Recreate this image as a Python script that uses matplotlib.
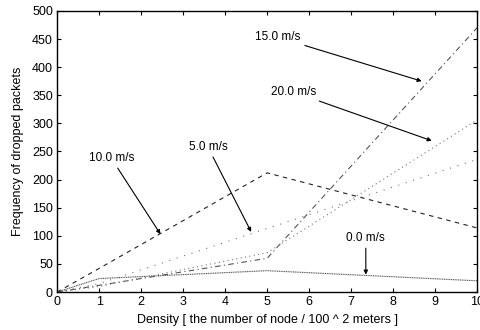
import matplotlib
matplotlib.use('Agg')
import matplotlib.pyplot as plt

plt.rcParams['font.family'] = ['Liberation Sans', 'DejaVu Sans']
plt.rcParams['font.size'] = 8

# density values where the curves were sampled
density = [0, 1, 5, 10]

speed_0 = [0, 24, 38, 20]
speed_5 = [0, 15, 113, 236]
speed_10 = [0, 42, 212, 114]
speed_15 = [0, 12, 60, 470]
speed_20 = [0, 10, 70, 306]

x_ticks = [0, 1, 2, 3, 4, 5, 6, 7, 8, 9, 10]
y_ticks = [0, 50, 100, 150, 200, 250, 300, 350, 400, 450, 500]


def main() -> None:
    fig = plt.figure(figsize=(4.8, 3.3), dpi=100)
    ax = fig.add_axes([0.119, 0.115, 0.875, 0.852])

    ax.plot(density, speed_0, color='#555555', lw=0.8, linestyle=(0, (1, 0.6)))
    ax.plot(density, speed_5, color='#777777', lw=0.8, linestyle=(0, (1, 6)))
    ax.plot(density, speed_10, color='#222222', lw=0.8, linestyle=(0, (4, 4)))
    ax.plot(density, speed_15, color='#555555', lw=0.8, linestyle=(0, (5, 3, 1, 3)))
    ax.plot(density, speed_20, color='#777777', lw=0.8, linestyle=(0, (1, 3)))

    # callouts naming each speed
    arrow = dict(arrowstyle='-|>', color='black', lw=0.8, mutation_scale=6,
                 shrinkA=1, shrinkB=0)
    ax.annotate('15.0 m/s', xy=(8.68, 375), xytext=(5.26, 453),
                ha='center', va='center', fontsize=8.5, arrowprops=arrow)
    ax.annotate('20.0 m/s', xy=(8.92, 269), xytext=(5.62, 356),
                ha='center', va='center', fontsize=8.5, arrowprops=arrow)
    ax.annotate('5.0 m/s', xy=(4.62, 107), xytext=(3.59, 258),
                ha='center', va='center', fontsize=8.5, arrowprops=arrow)
    ax.annotate('10.0 m/s', xy=(2.46, 103), xytext=(1.29, 238),
                ha='center', va='center', fontsize=8.5, arrowprops=arrow)
    ax.annotate('0.0 m/s', xy=(7.35, 31), xytext=(7.35, 96),
                ha='center', va='center', fontsize=8.5, arrowprops=arrow)

    ax.set_xlim(0, 10)
    ax.set_ylim(0, 500)
    ax.set_xticks(x_ticks)
    ax.set_yticks(y_ticks)
    ax.tick_params(direction='in', top=True, right=True, length=3, width=0.8,
                   labelsize=9, pad=3)
    for s in ax.spines.values():
        s.set_linewidth(1.0)
    ax.set_xlabel('Density [ the number of node / 100 ^ 2 meters ]', fontsize=9, labelpad=4)
    ax.set_ylabel('Frequency of dropped packets', fontsize=9, labelpad=6)

    fig.savefig('out.png', dpi=100)


if __name__ == '__main__':
    main()
